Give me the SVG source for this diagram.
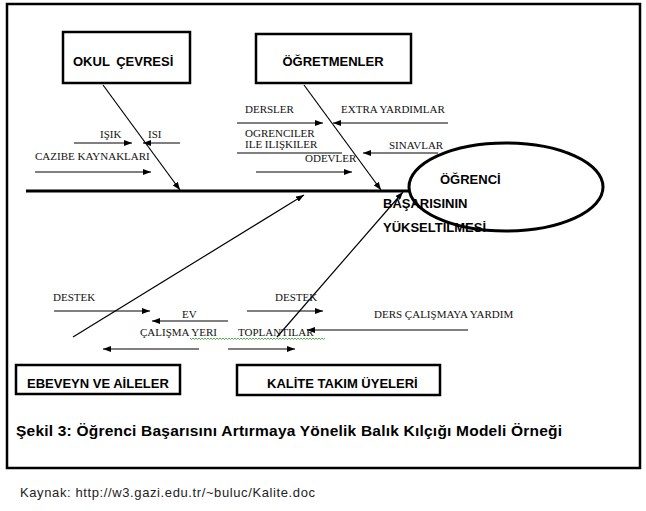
<svg xmlns="http://www.w3.org/2000/svg" width="646" height="511" viewBox="0 0 646 511">
<style>
.lbl{font-family:"Liberation Serif","Times New Roman",serif;font-size:11px;fill:#111}
.bx{font-family:"Liberation Sans",Arial,sans-serif;font-size:13px;font-weight:bold;fill:#000}
.box{fill:#fff;stroke:#000;stroke-width:2.5}
.bone{stroke:#000;stroke-width:1.2;fill:none}
.ar{stroke:#000;stroke-width:1;fill:none}
.gr{stroke:#808080;stroke-width:2;fill:none}
</style>
<defs>
<marker id="ah" viewBox="0 0 8 6" refX="8" refY="3" markerWidth="8" markerHeight="6" markerUnits="userSpaceOnUse" orient="auto">
<path d="M0,0 L8,3 L0,6 Z" fill="#000"/>
</marker>
</defs>
<rect x="0" y="0" width="646" height="511" fill="#fff"/>
<rect x="7" y="4" width="633" height="464" fill="none" stroke="#000" stroke-width="2.5"/>

<g id="connectors">
<line x1="26" y1="191" x2="409" y2="191" stroke="#000" stroke-width="3"/>
<line class="bone" x1="103" y1="85" x2="180" y2="190" marker-end="url(#ah)"/>
<line class="bone" x1="304" y1="85" x2="381" y2="190" marker-end="url(#ah)"/>
<line class="bone" x1="73" y1="337" x2="304" y2="195" marker-end="url(#ah)"/>
<line class="bone" x1="277" y1="337" x2="403" y2="192" marker-end="url(#ah)"/>
<line class="ar" x1="74" y1="143" x2="132" y2="143" marker-end="url(#ah)"/>
<line class="ar" x1="180" y1="143" x2="143" y2="143" marker-end="url(#ah)"/>
<line class="ar" x1="35" y1="172" x2="151" y2="172" marker-end="url(#ah)"/>
<line class="gr" x1="237" y1="123" x2="323" y2="123" marker-end="url(#ah)"/>
<line class="gr" x1="448" y1="123" x2="333" y2="123" marker-end="url(#ah)"/>
<line class="gr" x1="237" y1="153" x2="342" y2="153"/>
<line class="ar" x1="438" y1="153" x2="363" y2="153" marker-end="url(#ah)"/>
<line class="ar" x1="256" y1="172" x2="352" y2="172" marker-end="url(#ah)"/>
<line class="ar" x1="54" y1="311" x2="150" y2="311" marker-end="url(#ah)"/>
<line class="ar" x1="228" y1="321" x2="152" y2="321" marker-end="url(#ah)"/>
<line class="ar" x1="199" y1="349" x2="103" y2="349" marker-end="url(#ah)"/>
<line class="ar" x1="247" y1="311" x2="323" y2="311" marker-end="url(#ah)"/>
<line class="ar" x1="228" y1="349" x2="295" y2="349" marker-end="url(#ah)"/>
<line class="gr" x1="468" y1="330" x2="307" y2="330" marker-end="url(#ah)"/>
</g>

<g id="labels">
<text class="lbl" x="100" y="138">IŞIK</text>
<text class="lbl" x="148" y="138">ISI</text>
<text class="lbl" x="35" y="160">CAZIBE KAYNAKLARI</text>
<text class="lbl" x="245" y="113">DERSLER</text>
<text class="lbl" x="341" y="113">EXTRA YARDIMLAR</text>
<text class="lbl" x="245" y="137">OGRENCILER</text>
<text class="lbl" x="245" y="148">ILE ILIŞKILER</text>
<text class="lbl" x="389" y="149">SINAVLAR</text>
<text class="lbl" x="305" y="162">ODEVLER</text>
<text class="lbl" x="53" y="301">DESTEK</text>
<text class="lbl" x="182" y="318">EV</text>
<text class="lbl" x="140" y="336">ÇALIŞMA YERI</text>
<text class="lbl" x="275" y="301">DESTEK</text>
<text class="lbl" x="238" y="336">TOPLANTILAR</text>
<text class="lbl" x="374" y="318">DERS ÇALIŞMAYA YARDIM</text>
<path d="M190,338 l1.5,1.5 l1.5,-1.5 l1.5,1.5 l1.5,-1.5 l1.5,1.5 l1.5,-1.5 l1.5,1.5 l1.5,-1.5 l1.5,1.5 l1.5,-1.5 l1.5,1.5 l1.5,-1.5 l1.5,1.5 l1.5,-1.5 l1.5,1.5 l1.5,-1.5 l1.5,1.5 l1.5,-1.5 l1.5,1.5 l1.5,-1.5 l1.5,1.5 l1.5,-1.5 l1.5,1.5 l1.5,-1.5 l1.5,1.5 l1.5,-1.5 l1.5,1.5 l1.5,-1.5 l1.5,1.5 l1.5,-1.5 l1.5,1.5 l1.5,-1.5 l1.5,1.5 l1.5,-1.5 l1.5,1.5 l1.5,-1.5 l1.5,1.5 l1.5,-1.5 l1.5,1.5 l1.5,-1.5 l1.5,1.5 l1.5,-1.5 l1.5,1.5 l1.5,-1.5 l1.5,1.5 l1.5,-1.5 l1.5,1.5 l1.5,-1.5 l1.5,1.5 l1.5,-1.5 l1.5,1.5 l1.5,-1.5 l1.5,1.5 l1.5,-1.5 l1.5,1.5 l1.5,-1.5 l1.5,1.5 l1.5,-1.5 l1.5,1.5 l1.5,-1.5 l1.5,1.5 l1.5,-1.5 l1.5,1.5 l1.5,-1.5 l1.5,1.5 l1.5,-1.5 l1.5,1.5 l1.5,-1.5 l1.5,1.5 l1.5,-1.5 l1.5,1.5 l1.5,-1.5 l1.5,1.5 l1.5,-1.5 l1.5,1.5 l1.5,-1.5 l1.5,1.5 l1.5,-1.5 l1.5,1.5 l1.5,-1.5 l1.5,1.5 l1.5,-1.5 l1.5,1.5 l1.5,-1.5 l1.5,1.5 l1.5,-1.5 l1.5,1.5 l1.5,-1.5 l1.5,1.5 l1.5,-1.5" fill="none" stroke="#2a9a2a" stroke-width="0.8"/>
</g>

<g id="okul-cevresi">
<rect class="box" x="63" y="32" width="127" height="51"/>
<text class="bx" x="73" y="66" word-spacing="3">OKUL ÇEVRESİ</text>
</g>
<g id="ogretmenler">
<rect class="box" x="256" y="34" width="155" height="49"/>
<text class="bx" x="333" y="66" text-anchor="middle">ÖĞRETMENLER</text>
</g>
<g id="ebeveyn">
<rect class="box" x="16" y="365" width="164" height="29"/>
<text class="bx" x="27" y="388">EBEVEYN VE AİLELER</text>
</g>
<g id="kalite">
<rect class="box" x="237" y="365" width="203" height="30"/>
<text class="bx" x="267" y="388">KALİTE TAKIM ÜYELERİ</text>
</g>
<g id="sonuc">
<ellipse cx="506" cy="187" rx="97" ry="44" fill="none" stroke="#000" stroke-width="3"/>
<text class="bx" x="440" y="184">ÖĞRENCİ</text>
<text class="bx" x="383" y="208">BAŞARISININ</text>
<text class="bx" x="383" y="232">YÜKSELTİLMESİ</text>
</g>

<text x="16" y="436" font-family="Liberation Sans,Arial,sans-serif" font-size="15.5" font-weight="bold" fill="#000" textLength="546">Şekil 3: Öğrenci Başarısını Artırmaya Yönelik Balık Kılçığı Modeli Örneği</text>
<text x="20" y="497" font-family="Liberation Sans,Arial,sans-serif" font-size="13" fill="#222" textLength="295">Kaynak: http://w3.gazi.edu.tr/~buluc/Kalite.doc</text>
</svg>
